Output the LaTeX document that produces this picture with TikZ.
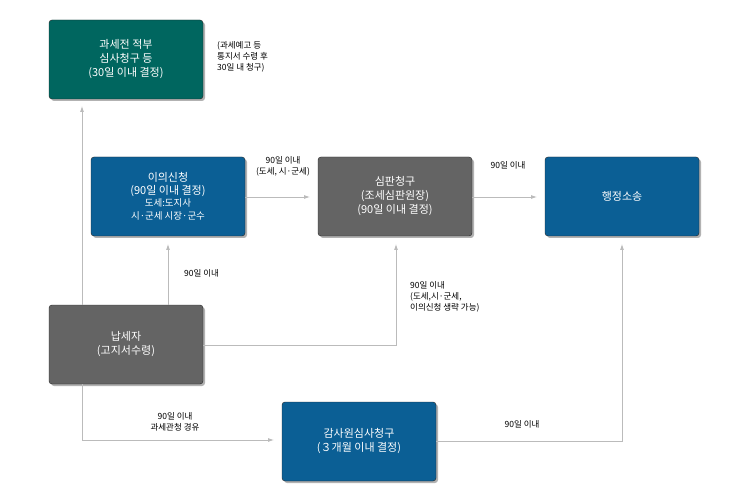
\documentclass[tikz,border=0pt]{standalone}
\usepackage{fontspec}
\setmainfont{Noto Sans CJK KR}
\usetikzlibrary{shadows,arrows.meta}
\definecolor{teal1}{HTML}{00665F}
\definecolor{blue1}{HTML}{0B5F95}
\definecolor{gray1}{HTML}{646464}
\definecolor{ln}{HTML}{BBBBBB}
\tikzset{
 box/.style={draw=black!85,rounded corners=3pt,minimum width=154pt,minimum height=79pt,text=white,align=center,font=\fontsize{11}{14}\selectfont,drop shadow={shadow xshift=2pt,shadow yshift=-2pt,fill=black!30,opacity=1}},
 conn/.style={draw=ln,line width=0.8pt,-{Latex[length=6pt,width=4pt]}},
 lab/.style={font=\fontsize{8.5}{11}\selectfont,inner sep=0pt}
}
\begin{document}
\begin{tikzpicture}[x=1pt,y=-1pt]
\useasboundingbox (0,0) rectangle (740,500);
\node[box,fill=teal1] (A) at (126,59.5) {과세전 적부\\심사청구 등\\(30일 이내 결정)};
\node[box,fill=blue1,font=\fontsize{11}{12.5}\selectfont] (B) at (168,196.5) {이의신청\\(90일 이내 결정)\\{\fontsize{9.5}{11}\selectfont 도세:도지사}\\{\fontsize{9.5}{11}\selectfont 시·군세 시장·군수}};
\node[box,fill=gray1] (C) at (395,196.5) {심판청구\\(조세심판원장)\\(90일 이내 결정)};
\node[box,fill=blue1] (D) at (622,196.5) {행정소송};
\node[box,fill=gray1] (E) at (126,344.5) {납세자\\(고지서수령)};
\node[box,fill=blue1] (F) at (359,441.5) {감사원심사청구\\(３개월 이내 결정)};
\coordinate (e1) at (82,305);
\coordinate (a1) at (82,106);
\coordinate (e2) at (82,384);
\coordinate (f1) at (274,440);
\coordinate (e3) at (168,305);
\coordinate (b1) at (168,244);
\coordinate (e4) at (203,345);
\coordinate (c1) at (396,244);
\coordinate (b2) at (245,197);
\coordinate (c2) at (310,197);
\coordinate (c3) at (472,197);
\coordinate (d2) at (537,197);
\coordinate (f2) at (436,441);
\coordinate (d1) at (622,244);
\draw[conn] (e1) -- (a1);
\draw[conn] (e2) |- (f1);
\draw[conn] (e3) -- (b1);
\draw[conn] (e4) -| (c1);
\draw[conn] (b2) -- (c2);
\draw[conn] (c3) -- (d2);
\draw[conn] (f2) -| (d1);
\node[lab,anchor=north west,align=left] (l1) at (217,41) {(과세예고 등\\통지서 수령 후\\30일 내 청구)};
\node[lab,align=center] (l2) at (283,166) {90일 이내\\(도세, 시·군세)};
\node[lab] (l3) at (508,165) {90일 이내};
\node[lab,anchor=west] (l4) at (184,273) {90일 이내};
\node[lab,anchor=north west,align=left] (l5) at (410,281) {90일 이내\\(도세,시·군세,\\이의신청 생략 가능)};
\node[lab,align=center] (l6) at (175,422) {90일 이내\\과세관청 경유};
\node[lab] (l7) at (522,424) {90일 이내};
\end{tikzpicture}
\end{document}
